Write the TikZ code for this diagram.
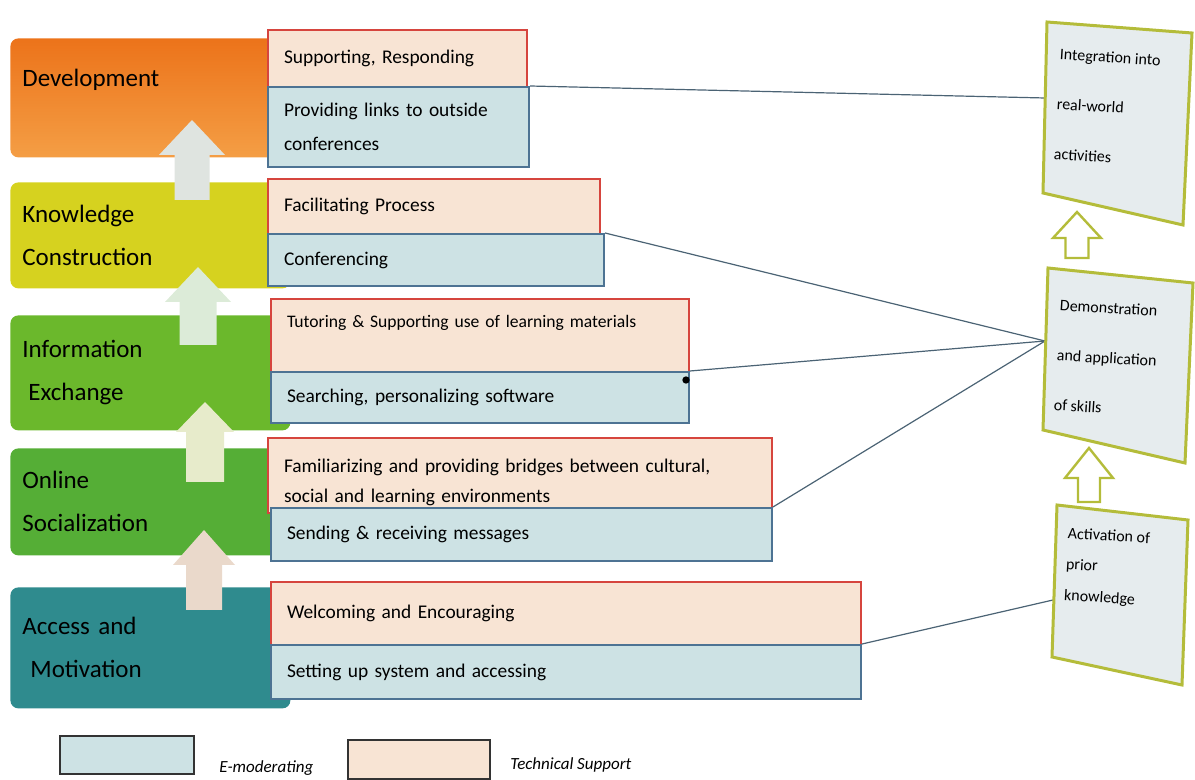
\documentclass[tikz,border=0pt]{standalone}
\usepackage{fontspec}
\setmainfont{Carlito}

\definecolor{devdark}{HTML}{EC731A}
\definecolor{devlight}{HTML}{F49E45}
\definecolor{knowyellow}{HTML}{D6D21F}
\definecolor{infogreen}{HTML}{6BB82C}
\definecolor{onlgreen}{HTML}{55AE36}
\definecolor{accteal}{HTML}{2F8B8E}
\definecolor{tsred}{HTML}{D6453E}
\definecolor{tsfill}{HTML}{F8E4D4}
\definecolor{emblue}{HTML}{4D7393}
\definecolor{emfill}{HTML}{CDE2E4}
\definecolor{goalolive}{HTML}{B4BC3A}
\definecolor{goalfill}{HTML}{E6ECEE}
\definecolor{linkgray}{HTML}{4B6374}
\definecolor{upgray}{HTML}{DFE4E0}
\definecolor{upmint}{HTML}{DCEBD8}
\definecolor{upcream}{HTML}{E7EBCB}
\definecolor{upbeige}{HTML}{EAD9CB}
\definecolor{legenddark}{HTML}{333333}

\begin{document}
\begin{tikzpicture}[x=0.5pt,y=-0.5pt,
    stage/.style={anchor=north west,rounded corners=4pt,align=left,inner xsep=6pt,text width=128pt,font=\fontsize{12.5}{21.5}\selectfont},
    tsbox/.style={draw=tsred,fill=tsfill,line width=1pt,anchor=north west,align=left,inner xsep=8pt,font=\fontsize{9.7}{16}\selectfont},
    embox/.style={draw=emblue,fill=emfill,line width=1pt,anchor=north west,align=left,inner xsep=8pt,font=\fontsize{9.7}{16}\selectfont},
    goalbox/.style={draw=goalolive,fill=goalfill,line width=1.5pt},
    goaltext/.style={anchor=north west,align=left,inner sep=0pt,rotate=-3.5,font=\fontsize{8}{25}\selectfont},
    hollow/.style={draw=goalolive,fill=white,line width=1.2pt},
    linkline/.style={draw=linkgray,line width=0.6pt},
    legbox/.style={draw=legenddark,line width=0.8pt,anchor=north west,inner sep=0pt},
    legtext/.style={anchor=west,inner sep=0pt,font=\fontsize{8.5}{10}\selectfont\itshape}]

    \useasboundingbox (0,0) rectangle (1195,780);

    % stages
    \node[stage,top color=devdark,bottom color=devlight,minimum height=59.5pt,text depth=20pt] (dev) at (10,38) {Development};
    \node[stage,fill=knowyellow,minimum height=53pt] (know) at (10,182) {Knowledge\\Construction};
    \node[stage,fill=infogreen,minimum height=57.5pt] (info) at (10,315) {Information\\\hspace*{3pt}Exchange};
    \node[stage,fill=onlgreen,minimum height=53.5pt] (onl) at (10,448) {Online\\Socialization};
    \node[stage,fill=accteal,minimum height=60.5pt] (acc) at (10,587) {Access and\\\hspace*{4pt}Motivation};

    \fill[upgray] (192,120) -- (225,155) -- (209.5,155) -- (209.5,200) -- (174.5,200) -- (174.5,155) -- (159,155) -- cycle;
    \fill[upmint] (198,267) -- (231,302) -- (216.5,302) -- (216.5,345) -- (179.5,345) -- (179.5,302) -- (165,302) -- cycle;
    \fill[upcream] (205,402) -- (234,432) -- (224,432) -- (224,482) -- (186,482) -- (186,432) -- (176,432) -- cycle;
    \fill[upbeige] (204,530) -- (235,565) -- (222,565) -- (222,610) -- (186,610) -- (186,565) -- (173,565) -- cycle;

    % tasks
    \node[tsbox,text width=113.5pt,minimum height=28.5pt] (sup) at (267,29) {Supporting, Responding};
    \node[embox,text width=114.5pt,minimum height=40pt] (lnk) at (267,86) {Providing links to outside\\[1pt]conferences};
    \node[tsbox,text width=150pt,minimum height=27.5pt] (fac) at (267,178) {Facilitating Process};
    \node[embox,text width=152pt,minimum height=26pt] (con) at (267,233) {Conferencing};
    \node[tsbox,text width=193pt,minimum height=36.5pt,text depth=14.5pt,font=\fontsize{8.8}{16}\selectfont] (tut) at (270,298) {Tutoring \& Supporting use of learning materials};
    \node[embox,text width=193pt,minimum height=25.5pt] (sea) at (270,371) {Searching, personalizing software};
    \node[tsbox,text width=236pt,minimum height=35pt,text height=14pt] (fam) at (267,437) {Familiarizing and providing bridges between cultural,\\[-1pt]social and learning environments};
    \node[embox,text width=234.5pt,minimum height=26.5pt] (sen) at (270,507) {Sending \& receiving messages};
    \node[tsbox,text width=279pt,minimum height=31.5pt] (wel) at (270,581) {Welcoming and Encouraging};
    \node[embox,text width=279pt,minimum height=27pt] (set) at (270,644) {Setting up system and accessing};

    % goals
    \coordinate (intg-in) at (1045,98);
    \coordinate (demo-in) at (1045,341);
    \coordinate (act-in) at (1053,600);

    \draw[linkline] (lnk.north east) -- (intg-in);
    \draw[linkline] (con.north east) -- (demo-in);
    \draw[linkline] (sea.north east) -- (demo-in);
    \draw[linkline] (sen.north east) -- (demo-in);
    \draw[linkline] (set.north east) -- (act-in);
    \node[circle,fill=black,inner sep=1.3pt] (dot) at (686,380) {};

    \draw[goalbox] (1047,22) -- (1192,33) -- (1183,225) -- (1043,193) -- cycle;
    \draw[goalbox] (1048,268) -- (1193,283) -- (1185,463) -- (1043,430) -- cycle;
    \draw[goalbox] (1057,505) -- (1188,520) -- (1182,685) -- (1052,657) -- cycle;
    \node[goaltext] (intg) at (1060,48) {Integration into\\real-world\\activities};
    \node[goaltext] (demo) at (1060,299) {Demonstration\\and application\\of skills};
    \node[goaltext,font=\fontsize{8}{15.5}\selectfont] (act) at (1068,527) {Activation of\\prior\\knowledge};

    \draw[hollow] (1077,212) -- (1101,238) -- (1088.5,238) -- (1088.5,258) -- (1065.5,258) -- (1065.5,238) -- (1053,238) -- cycle;
    \draw[hollow] (1089,448) -- (1113,478) -- (1100,478) -- (1100,502) -- (1078,502) -- (1078,478) -- (1065,478) -- cycle;

    % legend
    \node[legbox,fill=emfill,minimum width=67pt,minimum height=19pt] (legem) at (59,735) {};
    \node[legtext] (legemtxt) at (219,768) {E-moderating};
    \node[legbox,fill=tsfill,minimum width=71pt,minimum height=19.5pt] (legts) at (347,739) {};
    \node[legtext] (legtstxt) at (510,765) {Technical Support};

\end{tikzpicture}
\end{document}
